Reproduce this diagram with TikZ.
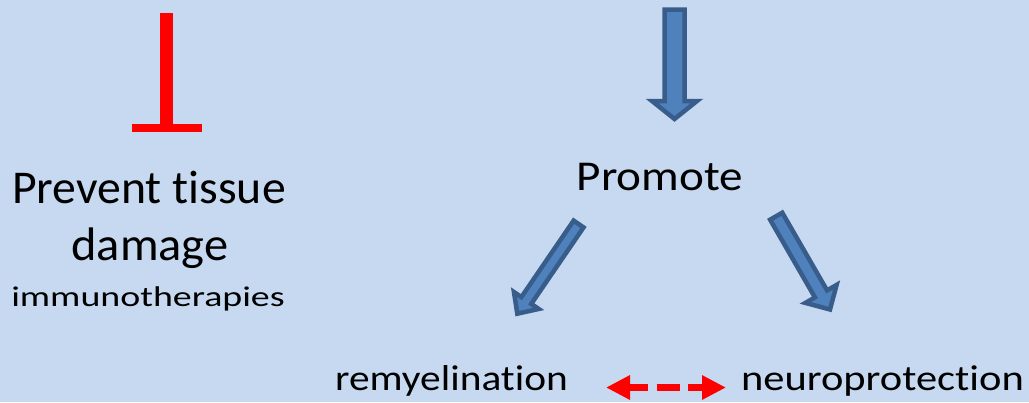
\documentclass[tikz,border=0pt]{standalone}
\usepackage{graphicx}
\usepackage{fontspec}
\setmainfont{Carlito}[Ligatures=NoCommon]
\usetikzlibrary{calc,arrows.meta}
\definecolor{slidebg}{RGB}{198,217,240}
\definecolor{arrowfill}{RGB}{79,129,189}
\definecolor{arrowline}{RGB}{56,93,138}

\tikzset{
  label/.style={inner sep=0pt, anchor=base, text=black},
  blockarrow/.style={draw=arrowline, fill=arrowfill, line width=4.5pt, line join=miter},
  swaparrow/.style={red, line width=7.7pt,
    dash pattern=on 19pt off 9pt on 23pt off 8pt on 20pt off 0pt,
    {Triangle[length=24pt,width=23pt]}-{Triangle[length=24pt,width=23pt]}}
}

% size, horizontal stretch, text
\newcommand{\slidetext}[3]{\fontsize{#1}{#1}\selectfont\scalebox{#2}[1]{#3}}

% tail, tip, half shaft, half head, head length
\newcommand{\blockarr}[5]{%
  \coordinate (ba-base) at ($(#2)!#5!(#1)$);
  \draw[blockarrow] ($(#1)!#3!90:(#2)$) -- ($(ba-base)!#3!90:(#2)$)
    -- ($(ba-base)!#4!90:(#2)$) -- (#2) -- ($(ba-base)!#4!-90:(#2)$)
    -- ($(ba-base)!#3!-90:(#2)$) -- ($(#1)!#3!-90:(#2)$) -- cycle;}

\begin{document}
\begin{tikzpicture}[x=1pt,y=-1pt]
  \fill[slidebg] (0,0) rectangle (1029,402);
  \useasboundingbox (0,0) rectangle (1029,402);

  % labels
  \node[label] (prevent) at (149,203) {\slidetext{47}{1.016}{Prevent tissue}};
  \node[label] (damage) at (150,260) {\slidetext{47}{1.03}{damage}};
  \node[label] (immuno) at (148,306.5) {\slidetext{28.5}{1.33}{immunotherapies}};
  \node[label] (promote) at (660,190) {\slidetext{42.5}{1.11}{Promote}};
  \node[label] (remy) at (451.5,390) {\slidetext{36}{1.15}{remyelination}};
  \node[label] (neuro) at (882.5,390) {\slidetext{36}{1.18}{neuroprotection}};

  % inhibition bar
  \coordinate (I1) at (166.4,13);
  \coordinate (I2) at (166.4,128);
  \coordinate (I3) at (132,128);
  \coordinate (I4) at (202,128);
  \draw[red, line width=12.7pt] (I1) -- (I2);
  \draw[red, line width=8pt] (I3) -- (I4);

  % block arrows
  \coordinate (D1) at (674.5,9.5);
  \coordinate (D2) at (674.5,119);
  \coordinate (L1) at (578.6,224);
  \coordinate (L2) at (517.3,313.7);
  \coordinate (R1) at (776.2,216.2);
  \coordinate (R2) at (830,309.5);
  \blockarr{D1}{D2}{10pt}{22.5pt}{18pt}
  \blockarr{L1}{L2}{6pt}{15pt}{16pt}
  \blockarr{R1}{R2}{7pt}{18pt}{18pt}

  % dashed double arrow
  \coordinate (S1) at (606,387.5);
  \coordinate (S2) at (726,387.5);
  \draw[swaparrow] (S1) -- (S2);
\end{tikzpicture}
\end{document}
